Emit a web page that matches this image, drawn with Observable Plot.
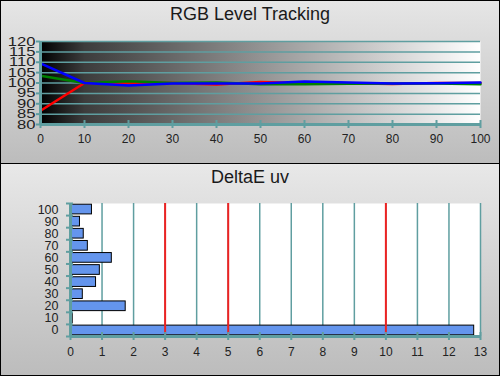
<!DOCTYPE html>
<html><head><meta charset="utf-8">
<script src="https://cdn.jsdelivr.net/npm/d3@7"></script>
<script src="https://cdn.jsdelivr.net/npm/@observablehq/plot@0.6"></script>
<style>
body{margin:0;background:#fff;}
#root{position:relative;width:500px;height:376px;overflow:hidden;font-family:"Liberation Sans",Arial,sans-serif;}
.panel{position:absolute;left:0;width:500px;}
#p1{top:0;height:163px;background:linear-gradient(#e6e6e6,#bcbcbc);}
#p2{top:164px;height:212px;background:linear-gradient(#e8e8e8,#bcbcbc);}
.sep{position:absolute;left:0;top:162.5px;width:500px;height:1.5px;background:#000}
.title{position:absolute;left:0;width:500px;text-align:center;font-size:18px;line-height:18px;color:#1a1a1a;}
.chart{position:absolute;left:0;}
.chart svg{display:block}
#frame{position:absolute;left:0;top:0;width:500px;height:376px;border:1px solid #000;box-sizing:border-box;pointer-events:none}
</style></head>
<body>
<div id="root">
  <div class="panel" id="p1"></div>
  <div class="panel" id="p2"></div>
  <div class="sep"></div>
  <div class="title" style="top:5px">RGB Level Tracking</div>
  <div class="title" style="top:167.5px">DeltaE uv</div>
  <div class="chart" id="c1" style="top:28px"></div>
  <div class="chart" id="c2" style="top:190px"></div>
  <div id="frame"></div>
</div>
<script>
// ---- RGB Level Tracking data ----
const levels = [0, 10, 20, 30, 40, 50, 60, 70, 80, 90, 100];
const redVals   = [86.6, 100, 100.1, 100, 99.3, 100.5, 100, 99.9, 99.5, 100, 100];
const greenVals = [103.5, 100, 100.8, 100, 100.3, 99.4, 99.4, 99.6, 99.8, 99.8, 99.4];
const blueVals  = [109.5, 100, 98.8, 99.8, 99.8, 99.8, 100.7, 100.2, 99.8, 99.9, 100.2];
const rgbYTicks = [80, 85, 90, 95, 100, 105, 110, 115, 120];
const rgbXTicks = [0, 10, 20, 30, 40, 50, 60, 70, 80, 90, 100];

// ---- DeltaE uv data ----
const deLevels = [0, 10, 20, 30, 40, 50, 60, 70, 80, 90, 100];
const deVals   = [12.8, 0.07, 1.75, 0.39, 0.81, 0.93, 1.31, 0.55, 0.42, 0.30, 0.68];
const deXTicks = [0, 1, 2, 3, 4, 5, 6, 7, 8, 9, 10, 11, 12, 13];
const deLimits = [3, 5, 10];

const teal = "#5f9ea0";
const font = "'Liberation Sans', Arial, sans-serif";

const toRows = (vals) => levels.map((l, i) => ({level: l, value: vals[i]}));

const rgbChart = Plot.plot({
  width: 500, height: 130,
  marginTop: 13, marginBottom: 34, marginLeft: 40, marginRight: 20,
  x: {domain: [0, 100], label: null},
  y: {domain: [80, 120], label: null},
  style: {background: "none", fontFamily: font, fontSize: "12px", color: "#222"},
  marks: [
    Plot.frame({fill: "url(#grayRamp)", stroke: null}),
    Plot.ruleY(rgbYTicks, {stroke: teal, strokeWidth: 1.5}),
    Plot.line(toRows(redVals), {x: "level", y: "value", stroke: "#ff0000", strokeWidth: 2.5}),
    Plot.line(toRows(greenVals), {x: "level", y: "value", stroke: "#008000", strokeWidth: 2.5}),
    Plot.line(toRows(blueVals), {x: "level", y: "value", stroke: "#0000ff", strokeWidth: 2.5}),
    Plot.ruleX([0], {stroke: teal, strokeWidth: 3}),
    Plot.ruleY([80], {stroke: teal, strokeWidth: 3}),
    Plot.ruleX(rgbXTicks, {y1: 80, y2: 80, insetTop: -4, insetBottom: -4, stroke: teal, strokeWidth: 2}),
    Plot.axisY(rgbYTicks, {tickSize: 4, tickPadding: 1, stroke: teal, strokeWidth: 2, fontSize: 12.5, label: null}),
    Plot.axisX(rgbXTicks, {tickSize: 0, tickPadding: 10, fontSize: 12, label: null})
  ]
});
d3.select(rgbChart).insert("defs", ":first-child").html(
  '<linearGradient id="grayRamp" x1="0" x2="1" y1="0" y2="0">' +
  '<stop offset="0" stop-color="#000"/>' +
  '<stop offset="0.1" stop-color="#3c3c3c"/>' +
  '<stop offset="1" stop-color="#fff"/></linearGradient>');
// widen the y tick labels like the reference
d3.select(rgbChart).selectAll('[aria-label="y-axis tick label"] text').each(function() {
  const t = this.getAttribute("transform");
  if (t) this.setAttribute("transform", t + " scale(1.33,1)");
});
document.getElementById("c1").appendChild(rgbChart);

const deRows = deLevels.map((l, i) => ({level: l, value: deVals[i]}));
const bandEdges = deLevels.map(l => l - 5).concat([deLevels[deLevels.length - 1] + 5]);

const deChart = Plot.plot({
  width: 500, height: 170,
  marginTop: 13, marginBottom: 24, marginLeft: 70, marginRight: 20,
  x: {domain: [0, 13], label: null},
  y: {domain: [-5, 105], label: null},
  style: {background: "none", fontFamily: font, fontSize: "12px", color: "#222"},
  marks: [
    Plot.frame({fill: "white", stroke: null}),
    Plot.ruleX(deXTicks.slice(1), {stroke: teal, strokeWidth: 1.5}),
    Plot.rectX(deRows, {x: "value", y1: d => d.level - 5, y2: d => d.level + 5, insetTop: 1.2, insetBottom: 1.2, fill: "#6495ed", stroke: "#000", strokeWidth: 1}),
    Plot.ruleX(deLimits, {stroke: "#ee2222", strokeWidth: 2}),
    Plot.ruleX([0], {stroke: teal, strokeWidth: 3}),
    Plot.ruleY([-5], {stroke: teal, strokeWidth: 3}),
    Plot.ruleX(deXTicks, {y1: -5, y2: -5, insetTop: -4, insetBottom: -4, stroke: teal, strokeWidth: 2}),
    Plot.ruleY(bandEdges, {x1: 0, x2: 0, insetLeft: -4, insetRight: -3, stroke: teal, strokeWidth: 2}),
    Plot.axisY(deLevels, {tickSize: 0, tickPadding: 12, fontSize: 12.5, label: null}),
    Plot.axisX(deXTicks, {tickSize: 0, tickPadding: 11, fontSize: 12, label: null})
  ]
});
document.getElementById("c2").appendChild(deChart);
</script>
</body></html>
